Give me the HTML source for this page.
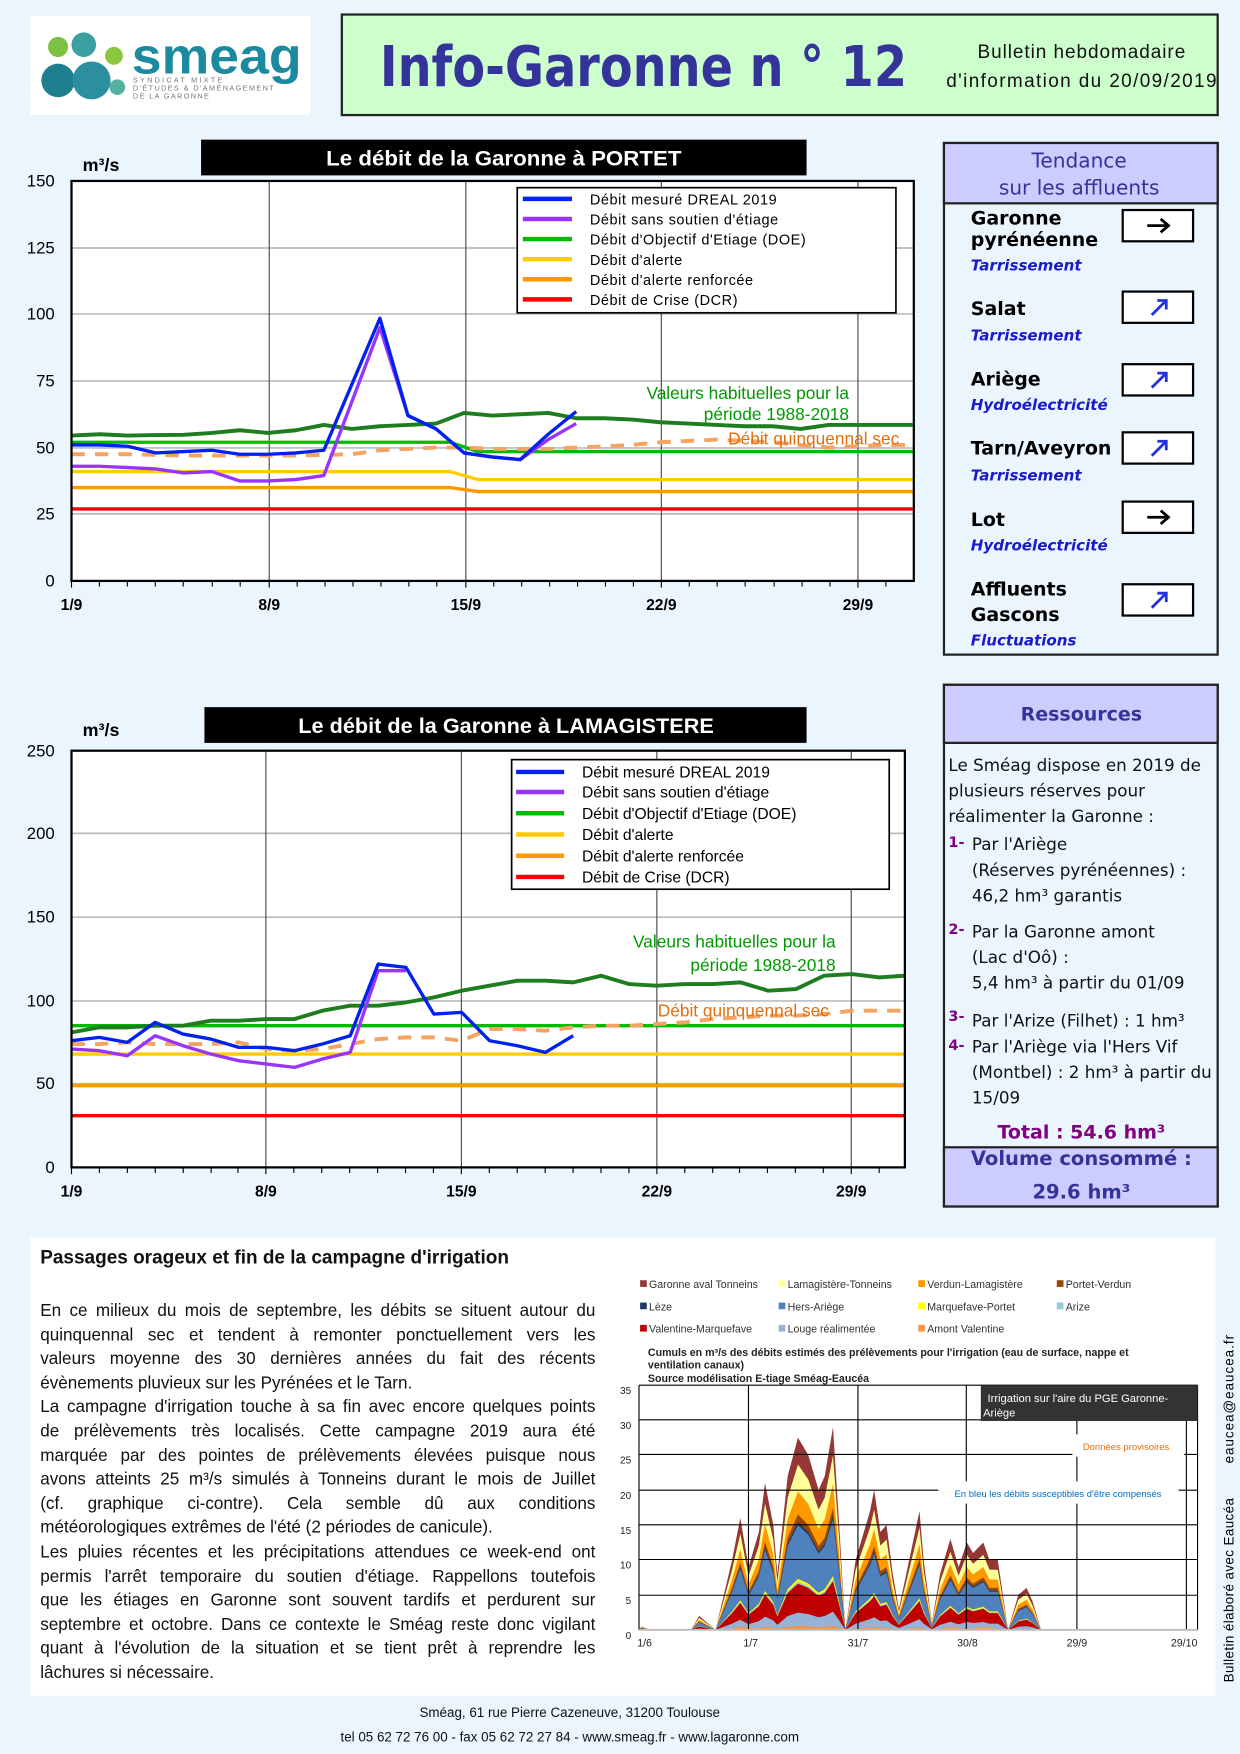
<!DOCTYPE html>
<html><head><meta charset="utf-8">
<style>
html,body{margin:0;padding:0;width:1240px;height:1754px;overflow:hidden;background:#eaf5fd;}
#w{position:absolute;left:0;top:0;width:1110px;height:1570px;transform:scale(1.11712);transform-origin:0 0;}
svg{position:absolute;left:0;top:0;}
text{font-family:"Liberation Sans",sans-serif;}
.dv{font-family:"DejaVu Sans","Liberation Sans",sans-serif;}
#para{position:absolute;left:36px;top:1163px;width:497px;font-family:"Liberation Sans",sans-serif;font-size:15.3px;line-height:21.6px;color:#111;}
#para div{text-align:justify;text-align-last:justify;white-space:nowrap;height:21.6px;}
#para div.l{text-align-last:left;}
</style></head><body><div id="w">
<svg width="1110" height="1570" viewBox="0 0 1110 1570">
<!-- header -->
<rect x="27" y="14" width="251" height="89" fill="#fff"/>
<circle cx="52" cy="42" r="9" fill="#7cc142"/><circle cx="75" cy="40" r="11" fill="#3aa0a0"/>
<circle cx="52" cy="72" r="15" fill="#1f7f8f"/><circle cx="82" cy="72" r="17" fill="#2b8fa0"/>
<circle cx="102" cy="50" r="8" fill="#8cc63f"/><circle cx="105" cy="78" r="7" fill="#55b0a0"/>
<text x="118" y="66" font-size="46" font-weight="bold" fill="#1b8a9e" textLength="152" lengthAdjust="spacingAndGlyphs">smeag</text>
<text x="119" y="74" font-size="6.5" fill="#777" textLength="80">SYNDICAT MIXTE</text>
<text x="119" y="81" font-size="6.5" fill="#777" textLength="126">D'ÉTUDES &amp; D'AMÉNAGEMENT</text>
<text x="119" y="88" font-size="6.5" fill="#777" textLength="68">DE LA GARONNE</text>
<rect x="306" y="13" width="784" height="90" fill="#ccffcc" stroke="#222" stroke-width="2"/>
<text class="dv" x="340" y="77" font-size="50" font-weight="bold" fill="#333399" textLength="472" lengthAdjust="spacingAndGlyphs">Info-Garonne n ° 12</text>
<text x="968" y="52" font-size="17" text-anchor="middle" fill="#111" textLength="186">Bulletin hebdomadaire</text>
<text x="968" y="78" font-size="17" text-anchor="middle" fill="#111" textLength="242">d'information du 20/09/2019</text>

<!-- CHART 1 -->
<rect x="180" y="125" width="542" height="32" fill="#000"/>
<text x="451" y="148" font-size="19" font-weight="bold" fill="#fff" text-anchor="middle" textLength="318" lengthAdjust="spacingAndGlyphs">Le débit de la Garonne à PORTET</text>
<text x="74" y="153" font-size="16" font-weight="bold" fill="#000">m³/s</text>
<rect x="64" y="162" width="754" height="358" fill="#fff"/>
<g stroke="#bbb" stroke-width="1.5">
<line x1="64" y1="222" x2="818" y2="222"/><line x1="64" y1="281" x2="818" y2="281"/><line x1="64" y1="341" x2="818" y2="341"/><line x1="64" y1="401" x2="818" y2="401"/><line x1="64" y1="460" x2="818" y2="460"/></g>
<g stroke="#444" stroke-width="1"><line x1="241" y1="162" x2="241" y2="520"/><line x1="417" y1="162" x2="417" y2="520"/><line x1="592" y1="162" x2="592" y2="520"/><line x1="768" y1="162" x2="768" y2="520"/></g>
<g transform="translate(64,520) scale(25.1,-2.387)" fill="none" stroke-linejoin="round">
<polyline vector-effect="non-scaling-stroke" stroke="#ff0000" stroke-width="3" points="0,27 30,27"/>
<polyline vector-effect="non-scaling-stroke" stroke="#ff9900" stroke-width="3" points="0,35 13.5,35 14.5,33.5 30,33.5"/>
<polyline vector-effect="non-scaling-stroke" stroke="#ffcc00" stroke-width="3" points="0,41 13.5,41 14.5,38 30,38"/>
<polyline vector-effect="non-scaling-stroke" stroke="#00bb00" stroke-width="3" points="0,52 13.5,52 14.5,48.5 30,48.5"/>
<polyline vector-effect="non-scaling-stroke" stroke="#f4a460" stroke-width="3.5" stroke-dasharray="12,9" points="0,47.5 2,47.5 4,47 6,47 8,47 10,47.5 11,49 12,49.5 13,50 14,50 15,49.5 16,49.5 17,49.5 18,50 19,50.5 20,51 21,52 22,52.5 23,53 24,52.5 25,52 26,51 27,50 28,50.5 29,51 30,51"/>
<polyline vector-effect="non-scaling-stroke" stroke="#1e7d1e" stroke-width="3.5" points="0,54.5 1,55 2,54.5 3,54.7 4,54.8 5,55.5 6,56.5 7,55.5 8,56.5 9,58.5 10,57 11,58 12,58.5 13,59 14,63 15,62 16,62.5 17,63 18,61 19,61 20,60.5 21,59.5 22,59 23,58.5 24,58 25,58 26,57 27,58.5 28,58.5 29,58.5 30,58.5"/>
<polyline vector-effect="non-scaling-stroke" stroke="#9933ff" stroke-width="3" points="0,43 1,43 2,42.5 3,42 4,40.5 5,41 6,37.5 7,37.5 8,38 9,39.5 11,95 12,62 13,57 14,48 15,46.5 16,45.5 17,53 18,59"/>
<polyline vector-effect="non-scaling-stroke" stroke="#0022ee" stroke-width="3" points="0,51 1,51 2,50.5 3,48 4,48.5 5,49 6,47.5 7,47.5 8,48 9,49 11,98.5 12,62 13,57 14,48 15,46.5 16,45.5 17,55 18,63.5"/>
</g>
<rect x="64" y="162" width="754" height="358" fill="none" stroke="#000" stroke-width="2"/>
<g stroke="#000" stroke-width="1"><path d="M89,520v5M114,520v5M139,520v5M164,520v5M190,520v5M215,520v5M266,520v5M291,520v5M316,520v5M341,520v5M366,520v5M391,520v5M442,520v5M467,520v5M492,520v5M517,520v5M542,520v5M567,520v5M617,520v5M642,520v5M667,520v5M693,520v5M718,520v5M743,520v5M793,520v5M64,520v6M241,520v6M417,520v6M592,520v6M768,520v6"/></g>
<g font-size="15" text-anchor="end" fill="#000"><text x="49" y="167">150</text><text x="49" y="227">125</text><text x="49" y="286">100</text><text x="49" y="346">75</text><text x="49" y="406">50</text><text x="49" y="465">25</text><text x="49" y="525">0</text></g>
<g font-size="14" font-weight="bold" text-anchor="middle" fill="#000"><text x="64" y="546">1/9</text><text x="241" y="546">8/9</text><text x="417" y="546">15/9</text><text x="592" y="546">22/9</text><text x="768" y="546">29/9</text></g>
<rect x="463" y="168" width="339" height="112" fill="#fff" stroke="#000" stroke-width="1.5"/>
<g stroke-width="4"><line x1="468" y1="178" x2="512" y2="178" stroke="#0022ee"/><line x1="468" y1="196" x2="512" y2="196" stroke="#9933ff"/><line x1="468" y1="214" x2="512" y2="214" stroke="#00bb00"/><line x1="468" y1="232" x2="512" y2="232" stroke="#ffcc00"/><line x1="468" y1="250" x2="512" y2="250" stroke="#ff9900"/><line x1="468" y1="268" x2="512" y2="268" stroke="#ff0000"/></g>
<g font-size="13" fill="#000" letter-spacing="0.5"><text x="528" y="183">Débit mesuré DREAL 2019</text><text x="528" y="201">Débit sans soutien d'étiage</text><text x="528" y="219">Débit d'Objectif d'Etiage (DOE)</text><text x="528" y="237">Débit d'alerte</text><text x="528" y="255">Débit d'alerte renforcée</text><text x="528" y="273">Débit de Crise (DCR)</text></g>
<g font-size="15.5" text-anchor="end"><text x="760" y="357" fill="#009900">Valeurs habituelles pour la</text><text x="760" y="376" fill="#009900">période 1988-2018</text><text x="805" y="398" fill="#e07010">Débit quinquennal sec</text></g>

<!-- CHART 2 -->
<rect x="183" y="633" width="539" height="32" fill="#000"/>
<text x="453" y="656" font-size="19" font-weight="bold" fill="#fff" text-anchor="middle" textLength="372" lengthAdjust="spacingAndGlyphs">Le débit de la Garonne à LAMAGISTERE</text>
<text x="74" y="659" font-size="16" font-weight="bold" fill="#000">m³/s</text>
<rect x="64" y="672" width="746" height="373" fill="#fff"/>
<g stroke="#bbb" stroke-width="1.5"><line x1="64" y1="746" x2="810" y2="746"/><line x1="64" y1="821" x2="810" y2="821"/><line x1="64" y1="896" x2="810" y2="896"/><line x1="64" y1="970" x2="810" y2="970"/></g>
<g stroke="#444" stroke-width="1"><line x1="238" y1="672" x2="238" y2="1045"/><line x1="413" y1="672" x2="413" y2="1045"/><line x1="588" y1="672" x2="588" y2="1045"/><line x1="762" y1="672" x2="762" y2="1045"/></g>
<g transform="translate(64,1045) scale(24.95,-1.492)" fill="none" stroke-linejoin="round">
<polyline vector-effect="non-scaling-stroke" stroke="#ff0000" stroke-width="3" points="0,31 29.9,31"/>
<polyline vector-effect="non-scaling-stroke" stroke="#ff9900" stroke-width="3" points="0,49 29.9,49"/>
<polyline vector-effect="non-scaling-stroke" stroke="#ffcc00" stroke-width="3" points="0,68 29.9,68"/>
<polyline vector-effect="non-scaling-stroke" stroke="#00bb00" stroke-width="3" points="0,85 29.9,85"/>
<polyline vector-effect="non-scaling-stroke" stroke="#f4a460" stroke-width="3.5" stroke-dasharray="12,9" points="0,74 1,74 2,75 3,74 4,74 5,74 6,75 7,71 8,70 9,71 10,74 11,77 12,78 13,78 14,76 15,83 16,83 17,82 18,84 19,85 20,85 21,86 22,87 23,89 24,90 25,91 26,91 27,92 28,94 29.9,94"/>
<polyline vector-effect="non-scaling-stroke" stroke="#1e7d1e" stroke-width="3.5" points="0,81 1,84 2,84 3,85 4,85 5,88 6,88 7,89 8,89 9,94 10,97 11,97 12,99 13,102 14,106 15,109 16,112 17,112 18,111 19,115 20,110 21,109 22,110 23,110 24,111 25,106 26,107 27,115 28,116 29,114 29.9,115"/>
<polyline vector-effect="non-scaling-stroke" stroke="#9933ff" stroke-width="3" points="0,71 1,70 2,67 3,79 4,73 5,68 6,64 7,62 8,60 9,65 10,69 11,118 12,118"/>
<polyline vector-effect="non-scaling-stroke" stroke="#0022ee" stroke-width="3" points="0,76 1,78 2,75 3,87 4,80 5,77 6,72 7,72 8,70 9,74 10,79 11,122 12,120 13,92 14,93 15,76 16,73 17,69 18,79"/>
</g>
<rect x="64" y="672" width="746" height="373" fill="none" stroke="#000" stroke-width="2"/>
<g stroke="#000" stroke-width="1"><path d="M89,1045v5M114,1045v5M139,1045v5M164,1045v5M189,1045v5M213,1045v5M263,1045v5M288,1045v5M313,1045v5M338,1045v5M363,1045v5M388,1045v5M438,1045v5M463,1045v5M488,1045v5M513,1045v5M538,1045v5M563,1045v5M613,1045v5M638,1045v5M662,1045v5M687,1045v5M712,1045v5M737,1045v5M787,1045v5M64,1045v6M238,1045v6M413,1045v6M588,1045v6M762,1045v6"/></g>
<g font-size="15" text-anchor="end" fill="#000"><text x="49" y="677">250</text><text x="49" y="751">200</text><text x="49" y="826">150</text><text x="49" y="901">100</text><text x="49" y="975">50</text><text x="49" y="1050">0</text></g>
<g font-size="14" font-weight="bold" text-anchor="middle" fill="#000"><text x="64" y="1071">1/9</text><text x="238" y="1071">8/9</text><text x="413" y="1071">15/9</text><text x="588" y="1071">22/9</text><text x="762" y="1071">29/9</text></g>
<rect x="458" y="680" width="338" height="116" fill="#fff" stroke="#000" stroke-width="1.5"/>
<g stroke-width="4"><line x1="462" y1="691" x2="505" y2="691" stroke="#0022ee"/><line x1="462" y1="709" x2="505" y2="709" stroke="#9933ff"/><line x1="462" y1="728" x2="505" y2="728" stroke="#00bb00"/><line x1="462" y1="747" x2="505" y2="747" stroke="#ffcc00"/><line x1="462" y1="766" x2="505" y2="766" stroke="#ff9900"/><line x1="462" y1="785" x2="505" y2="785" stroke="#ff0000"/></g>
<g font-size="14" fill="#000"><text x="521" y="696">Débit mesuré DREAL 2019</text><text x="521" y="714">Débit sans soutien d'étiage</text><text x="521" y="733">Débit d'Objectif d'Etiage (DOE)</text><text x="521" y="752">Débit d'alerte</text><text x="521" y="771">Débit d'alerte renforcée</text><text x="521" y="790">Débit de Crise (DCR)</text></g>
<g font-size="15.5" text-anchor="end"><text x="748" y="848" fill="#009900">Valeurs habituelles pour la</text><text x="748" y="869" fill="#009900">période 1988-2018</text><text x="742" y="910" fill="#e07010">Débit quinquennal sec</text></g>

<!-- TENDANCE -->
<rect x="845" y="128" width="245" height="458" fill="#eaf5fd" stroke="#222" stroke-width="2"/>
<rect x="845" y="128" width="245" height="54" fill="#ccccff" stroke="#222" stroke-width="2"/>
<g font-size="18" fill="#333399" text-anchor="middle"><text class="dv" x="966" y="150">Tendance</text><text class="dv" x="966" y="174">sur les affluents</text></g>
<g font-size="17" font-weight="bold" fill="#000"><text class="dv" x="869" y="201">Garonne</text><text class="dv" x="869" y="220">pyrénéenne</text><text class="dv" x="869" y="282">Salat</text><text class="dv" x="869" y="345">Ariège</text><text class="dv" x="869" y="407">Tarn/Aveyron</text><text class="dv" x="869" y="471">Lot</text><text class="dv" x="869" y="533">Affluents</text><text class="dv" x="869" y="556">Gascons</text></g>
<g font-size="13.5" fill="#1a1acc" font-style="italic" font-weight="bold"><text class="dv" x="869" y="242">Tarrissement</text><text class="dv" x="869" y="305">Tarrissement</text><text class="dv" x="869" y="367">Hydroélectricité</text><text class="dv" x="869" y="430">Tarrissement</text><text class="dv" x="869" y="493">Hydroélectricité</text><text class="dv" x="869" y="578">Fluctuations</text></g>
<g fill="#fff" stroke="#000" stroke-width="2"><rect x="1005" y="188" width="63" height="28"/><rect x="1005" y="261" width="63" height="28"/><rect x="1005" y="326" width="63" height="28"/><rect x="1005" y="387" width="63" height="28"/><rect x="1005" y="449" width="63" height="28"/><rect x="1005" y="523" width="63" height="28"/></g>
<g fill="none" stroke="#000" stroke-width="2.5"><path d="M1027,202h18M1039,196l7,6l-7,6"/><path d="M1027,463h18M1039,457l7,6l-7,6"/></g>
<g fill="none" stroke="#2233dd" stroke-width="2.5"><path d="M1031,282l12,-12M1036,269h8v8"/><path d="M1031,347l12,-12M1036,334h8v8"/><path d="M1031,408l12,-12M1036,395h8v8"/><path d="M1031,544l12,-12M1036,531h8v8"/></g>

<!-- RESSOURCES -->
<rect x="845" y="613" width="245" height="467" fill="#eaf5fd" stroke="#222" stroke-width="2"/>
<rect x="845" y="613" width="245" height="52" fill="#ccccff" stroke="#222" stroke-width="2"/>
<rect x="845" y="1027" width="245" height="53" fill="#ccccff" stroke="#222" stroke-width="2"/>
<text class="dv" x="968" y="645" font-size="17" font-weight="bold" fill="#333399" text-anchor="middle">Ressources</text>
<g font-size="15" fill="#111"><text class="dv" x="849" y="690">Le Sméag dispose en 2019 de</text><text class="dv" x="849" y="713">plusieurs réserves pour</text><text class="dv" x="849" y="736">réalimenter la Garonne :</text>
<text class="dv" x="870" y="761">Par l'Ariège</text><text class="dv" x="870" y="784">(Réserves pyrénéennes) :</text><text class="dv" x="870" y="807">46,2 hm³ garantis</text>
<text class="dv" x="870" y="839">Par la Garonne amont</text><text class="dv" x="870" y="862">(Lac d'Oô) :</text><text class="dv" x="870" y="885">5,4 hm³ à partir du 01/09</text>
<text class="dv" x="870" y="919">Par l'Arize (Filhet) : 1 hm³</text><text class="dv" x="870" y="942">Par l'Ariège via l'Hers Vif</text><text class="dv" x="870" y="965">(Montbel) : 2 hm³ à partir du</text><text class="dv" x="870" y="988">15/09</text></g>
<g font-size="13" font-weight="bold" fill="#800080"><text class="dv" x="849" y="758">1-</text><text class="dv" x="849" y="836">2-</text><text class="dv" x="849" y="914">3-</text><text class="dv" x="849" y="940">4-</text></g>
<text class="dv" x="968" y="1019" font-size="17" font-weight="bold" fill="#800080" text-anchor="middle">Total  : 54.6 hm³</text>
<text class="dv" x="968" y="1043" font-size="17.5" font-weight="bold" fill="#333399" text-anchor="middle">Volume consommé  :</text>
<text class="dv" x="968" y="1073" font-size="17.5" font-weight="bold" fill="#333399" text-anchor="middle">29.6 hm³</text>

<!-- BOTTOM -->
<rect x="27" y="1108" width="1061" height="410" fill="#fff"/>
<text x="36" y="1131" font-size="17" font-weight="bold" fill="#111">Passages orageux et fin de la campagne d'irrigation</text>
<g font-size="9.5" fill="#333">
<rect x="573" y="1146" width="6" height="6" fill="#953735"/><text x="581" y="1153">Garonne aval Tonneins</text>
<rect x="697" y="1146" width="6" height="6" fill="#ffff99"/><text x="705" y="1153">Lamagistère-Tonneins</text>
<rect x="822" y="1146" width="6" height="6" fill="#ff9900"/><text x="830" y="1153">Verdun-Lamagistère</text>
<rect x="946" y="1146" width="6" height="6" fill="#974806"/><text x="954" y="1153">Portet-Verdun</text>
<rect x="573" y="1166" width="6" height="6" fill="#1f3864"/><text x="581" y="1173">Lèze</text>
<rect x="697" y="1166" width="6" height="6" fill="#4f81bd"/><text x="705" y="1173">Hers-Ariège</text>
<rect x="822" y="1166" width="6" height="6" fill="#ffff00"/><text x="830" y="1173">Marquefave-Portet</text>
<rect x="946" y="1166" width="6" height="6" fill="#92cddc"/><text x="954" y="1173">Arize</text>
<rect x="573" y="1186" width="6" height="6" fill="#c00000"/><text x="581" y="1193">Valentine-Marquefave</text>
<rect x="697" y="1186" width="6" height="6" fill="#95b3d7"/><text x="705" y="1193">Louge réalimentée</text>
<rect x="822" y="1186" width="6" height="6" fill="#f79646"/><text x="830" y="1193">Amont Valentine</text></g>
<g font-size="9.5" font-weight="bold" fill="#222"><text x="580" y="1214">Cumuls en m³/s des débits estimés des prélèvements pour l'irrigation (eau de surface, nappe et</text><text x="580" y="1225">ventilation canaux)</text><text x="580" y="1237">Source modélisation E-tiage Sméag-Eaucéa</text></g>
<defs><polygon id="prof" points="104,0 110,0.5 130,0 230,0 250,2 270,1 290,0 330,10 350,16 370,9 395,14 410,21 430,15 440,8 465,22 490,27.5 515,25 540,20 555,22 575,29 590,15 605,0 630,10 665,17 675,20 690,14 705,15 720,8 735,3 760,10 785,17 795,10 815,1 835,8 860,13 880,9 900,12.5 915,11 940,12.5 955,10 975,10 1000,0 1025,5 1045,6 1060,4 1080,0"/></defs>
<g transform="translate(572,1459) scale(0.3687,-6.26) translate(-104,0)">
<use href="#prof" fill="#953735"/>
<use href="#prof" fill="#ffff99" transform="scale(1,0.86)"/>
<use href="#prof" fill="#ff9900" transform="scale(1,0.72)"/>
<use href="#prof" fill="#974806" transform="scale(1,0.6)"/>
<use href="#prof" fill="#1f3864" transform="scale(1,0.56)"/>
<use href="#prof" fill="#4f81bd" transform="scale(1,0.545)"/>
<use href="#prof" fill="#ffff00" transform="scale(1,0.265)"/>
<use href="#prof" fill="#92cddc" transform="scale(1,0.25)"/>
<use href="#prof" fill="#c00000" transform="scale(1,0.24)"/>
<use href="#prof" fill="#95b3d7" transform="scale(1,0.09)"/>
<use href="#prof" fill="#f79646" transform="scale(1,0.02)"/>
</g>
<g stroke="#000" stroke-width="1"><line x1="572" y1="1240" x2="1072" y2="1240"/><line x1="572" y1="1271" x2="1072" y2="1271"/><line x1="572" y1="1302" x2="1072" y2="1302"/><line x1="572" y1="1334" x2="1072" y2="1334"/><line x1="572" y1="1365" x2="1072" y2="1365"/><line x1="572" y1="1396" x2="1072" y2="1396"/><line x1="572" y1="1428" x2="1072" y2="1428"/>
<line x1="670" y1="1240" x2="670" y2="1459"/><line x1="768" y1="1240" x2="768" y2="1459"/><line x1="865" y1="1240" x2="865" y2="1459"/><line x1="964" y1="1240" x2="964" y2="1459"/><line x1="1062" y1="1240" x2="1062" y2="1459"/><line x1="572" y1="1240" x2="572" y2="1459"/><line x1="1072" y1="1240" x2="1072" y2="1459"/></g>
<line x1="572" y1="1459" x2="1072" y2="1459" stroke="#bbb" stroke-width="1.5"/>
<rect x="878" y="1240" width="194" height="32" fill="#333"/>
<text x="884" y="1255" font-size="10" fill="#fff">Irrigation sur l'aire du PGE Garonne-</text><text x="880" y="1268" font-size="10" fill="#fff">Ariège</text>
<rect x="960" y="1284" width="100" height="20" fill="#fff"/><text x="1008" y="1298" font-size="8.5" fill="#e36c09" text-anchor="middle">Données provisoires</text>
<rect x="840" y="1326" width="215" height="20" fill="#fff"/><text x="947" y="1340" font-size="8.5" fill="#0070c0" text-anchor="middle">En bleu les débits susceptibles d'être compensés</text>
<g font-size="9" fill="#222" text-anchor="end"><text x="565" y="1248">35</text><text x="565" y="1279">30</text><text x="565" y="1310">25</text><text x="565" y="1342">20</text><text x="565" y="1373">15</text><text x="565" y="1404">10</text><text x="565" y="1436">5</text><text x="565" y="1467">0</text></g>
<g font-size="9.5" fill="#222" text-anchor="middle"><text x="577" y="1474">1/6</text><text x="672" y="1474">1/7</text><text x="768" y="1474">31/7</text><text x="866" y="1474">30/8</text><text x="964" y="1474">29/9</text><text x="1060" y="1474">29/10</text></g>
<text transform="translate(1104,1506) rotate(-90)" font-size="12" fill="#000" textLength="165">Bulletin élaboré avec Eaucéa</text>
<text transform="translate(1104,1310) rotate(-90)" font-size="12" fill="#000" textLength="115">eaucea@eaucea.fr</text>
<text x="510" y="1537" font-size="12" fill="#111" text-anchor="middle">Sméag, 61 rue Pierre Cazeneuve, 31200 Toulouse</text>
<text x="510" y="1559" font-size="12" fill="#111" text-anchor="middle">tel 05 62 72 76 00 - fax 05 62 72 27 84  - www.smeag.fr - www.lagaronne.com</text>
</svg>
<div id="para">
<div>En ce milieux du mois de septembre, les débits se situent autour du</div>
<div>quinquennal sec et tendent à remonter ponctuellement vers les</div>
<div>valeurs moyenne des 30 dernières années du fait des récents</div>
<div class="l">évènements pluvieux sur les Pyrénées et le Tarn.</div>
<div>La campagne d'irrigation touche à sa fin avec encore quelques points</div>
<div>de prélèvements très localisés. Cette campagne 2019 aura été</div>
<div>marquée par des pointes de prélèvements élevées puisque nous</div>
<div>avons atteints 25 m³/s simulés à Tonneins durant le mois de Juillet</div>
<div>(cf. graphique ci-contre). Cela semble dû aux conditions</div>
<div class="l">météorologiques extrêmes de l'été (2 périodes de canicule).</div>
<div>Les pluies récentes et les précipitations attendues ce week-end ont</div>
<div>permis l'arrêt temporaire du soutien d'étiage. Rappellons toutefois</div>
<div>que les étiages en Garonne sont souvent tardifs et perdurent sur</div>
<div>septembre et octobre. Dans ce contexte le Sméag reste donc vigilant</div>
<div>quant à l'évolution de la situation et se tient prêt à reprendre les</div>
<div class="l">lâchures si nécessaire.</div>
</div>
</div></body></html>
